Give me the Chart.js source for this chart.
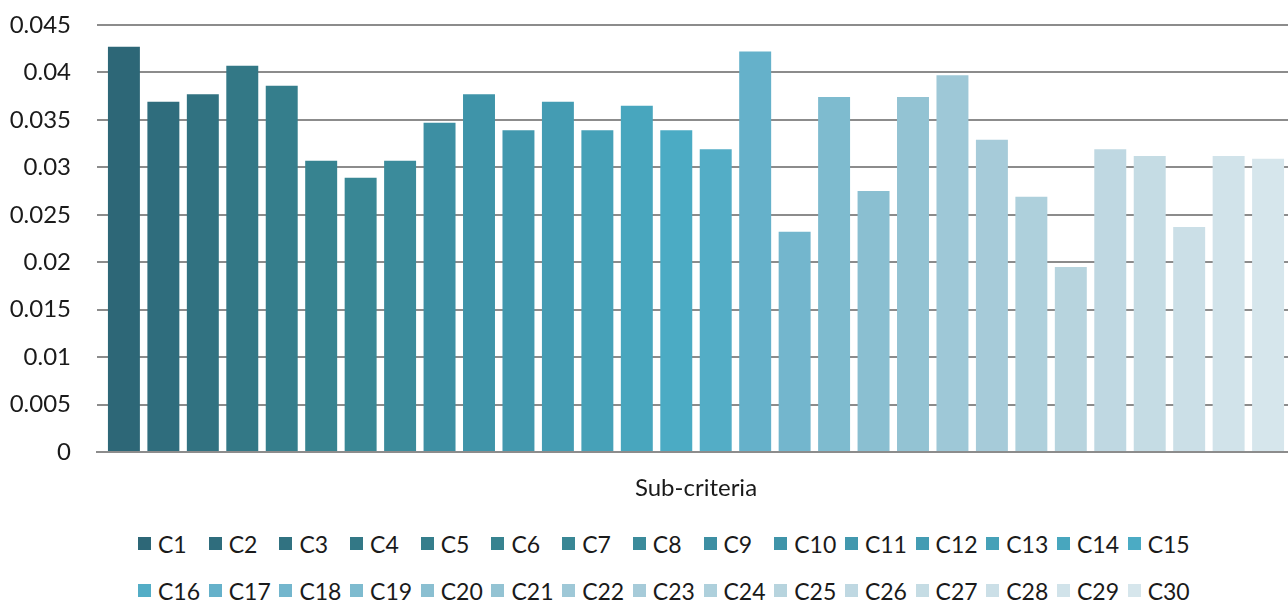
<!DOCTYPE html>
<html lang="en">
<head>
    <meta charset="UTF-8">
    <title>Sub-criteria weights</title>
    <script src="https://cdn.jsdelivr.net/npm/chart.js"></script>
    <style>
        body { margin: 0; width: 1288px; height: 601px; overflow: hidden; background: #fff; font-family: Lato, sans-serif; }
        /* chart is a bit wider than the window, like the cropped original */
        #wrap { position: relative; width: 1295px; height: 500px; }
        #legend { position: absolute; left: 138px; top: 520px; width: 1140px; }
        .row { display: flex; height: 47px; align-items: center; }
        .item { width: 70.7px; flex: none; display: flex; align-items: center; font-size: 23px; color: #1a1a1a; }
        .box { width: 13px; height: 13px; margin-right: 7px; flex: none; }
    </style>
</head>
<body>
    <div id="wrap"><canvas id="weightChart"></canvas></div>
    <div id="legend"></div>

    <script>
        // Data
        const categories = ['Sub-criteria'];
        const seriesNames = ['C1', 'C2', 'C3', 'C4', 'C5', 'C6', 'C7', 'C8', 'C9', 'C10',
            'C11', 'C12', 'C13', 'C14', 'C15', 'C16', 'C17', 'C18', 'C19', 'C20',
            'C21', 'C22', 'C23', 'C24', 'C25', 'C26', 'C27', 'C28', 'C29', 'C30'];
        const weights = [0.0427, 0.0369, 0.0377, 0.0407, 0.0386, 0.0307, 0.0289, 0.0307, 0.0347, 0.0377,
            0.0339, 0.0369, 0.0339, 0.0365, 0.0339, 0.0319, 0.0422, 0.0232, 0.0374, 0.0275,
            0.0374, 0.0397, 0.0329, 0.0269, 0.0195, 0.0319, 0.0312, 0.0237, 0.0312, 0.0309];
        const yTickLabels = ['0', '0.005', '0.01', '0.015', '0.02', '0.025', '0.03', '0.035', '0.04', '0.045'];

        // Colours, dark teal to pale blue
        const barColors = ['#2D6777', '#2F6D7D', '#317281', '#337886', '#357E8C', '#378390', '#398795', '#3B8B9B',
            '#3D8FA3', '#3F94A9', '#4298AE', '#449CB3', '#46A1B8', '#48A6BE', '#4BABC4', '#53ADC6',
            '#65B1CA', '#73B6CD', '#7EBBCF', '#8ABFD1', '#93C3D3', '#9EC8D7', '#A6CBD9', '#AED0DC',
            '#B7D4DE', '#BFD8E2', '#C5DCE4', '#CBDFE7', '#D1E3EA', '#D6E6EC'];

        const gridColor = '#8c8c8c';

        const datasets = seriesNames.map((name, i) => ({
            label: name,
            data: [weights[i]],
            backgroundColor: barColors[i],
            barPercentage: 0.81,
            categoryPercentage: 0.988
        }));

        const chart = new Chart(document.getElementById('weightChart').getContext('2d'), {
            type: 'bar',
            data: { labels: categories, datasets: datasets },
            options: {
                responsive: true,
                maintainAspectRatio: false,
                animation: false,
                layout: { padding: { top: 25, left: 0, right: 0, bottom: 0 } },
                plugins: { legend: { display: false }, tooltip: { enabled: false } },
                scales: {
                    x: {
                        grid: { display: false, drawTicks: false },
                        border: { color: gridColor, width: 2 },
                        ticks: { color: '#1a1a1a', padding: 22, font: { family: 'Lato', size: 24 } },
                        afterFit: (s) => { s.height = 48; }
                    },
                    y: {
                        min: 0,
                        max: 0.045,
                        ticks: {
                            stepSize: 0.005,
                            padding: 26,
                            color: '#1a1a1a',
                            font: { family: 'Lato', size: 24 },
                            callback: (v, i) => yTickLabels[i]
                        },
                        grid: { color: gridColor, lineWidth: 2, drawTicks: false },
                        border: { display: false },
                        // fixed width, and no extra room above the top label
                        afterFit: (s) => { s.width = 97; s.paddingTop = 0; s.paddingBottom = 0; }
                    }
                }
            }
        });

        // Legend in two rows of 15, fixed width items like the original
        const legend = document.getElementById('legend');
        for (let r = 0; r < 2; r++) {
            const row = document.createElement('div');
            row.className = 'row';
            seriesNames.slice(r * 15, r * 15 + 15).forEach((name, k) => {
                const item = document.createElement('div');
                item.className = 'item';
                const box = document.createElement('span');
                box.className = 'box';
                box.style.background = barColors[r * 15 + k];
                item.appendChild(box);
                item.appendChild(document.createTextNode(name));
                row.appendChild(item);
            });
            legend.appendChild(row);
        }
    </script>
</body>
</html>
